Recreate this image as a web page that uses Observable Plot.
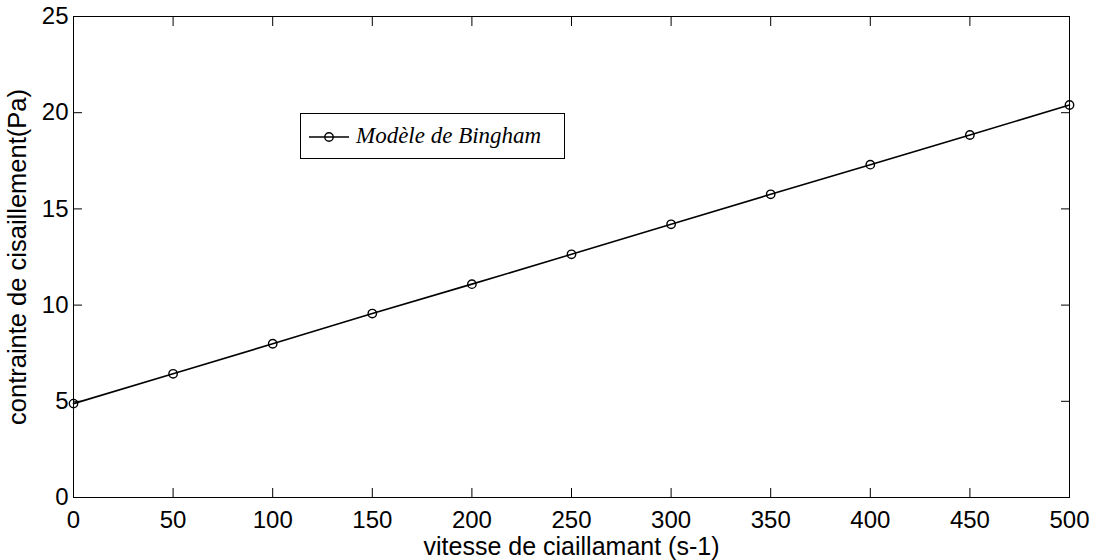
<!DOCTYPE html>
<html>
<head>
<meta charset="utf-8">
<script src="https://cdn.jsdelivr.net/npm/d3@7"></script>
<script src="https://cdn.jsdelivr.net/npm/@observablehq/plot@0.6"></script>
<style>
  html, body { margin: 0; padding: 0; background: #fff; }
  #wrap { position: relative; width: 1096px; height: 560px; }
  #legend {
    position: absolute; left: 300px; top: 113px; width: 263px; height: 44px;
    border: 1px solid #000; background: #fff; box-sizing: content-box;
    font-family: "Liberation Serif", "Times New Roman", serif; font-style: italic; font-size: 23px;
  }
  #legend svg { position: absolute; left: 7px; top: 0; }
  #legend span { position: absolute; left: 55px; top: 9px; line-height: 26px; white-space: nowrap; }
</style>
</head>
<body>
<div id="wrap"></div>
<script>
const shearRate = [0, 50, 100, 150, 200, 250, 300, 350, 400, 450, 500];
const shearStress = [4.88, 6.43, 7.99, 9.56, 11.09, 12.64, 14.20, 15.76, 17.30, 18.84, 20.40];
const xTicks = [0, 50, 100, 150, 200, 250, 300, 350, 400, 450, 500];
const yTicks = [0, 5, 10, 15, 20, 25];
const xLabel = "vitesse de ciaillamant (s-1)";
const yLabel = "contrainte de cisaillement(Pa)";
const seriesName = "Modèle de Bingham";

const data = shearRate.map((x, i) => ({x, y: shearStress[i]}));

const chart = Plot.plot({
  width: 1096,
  height: 560,
  marginLeft: 73,
  marginRight: 27,
  marginTop: 16,
  marginBottom: 63,
  style: {fontFamily: "'Liberation Sans', Arial, sans-serif", fontSize: "24px", color: "#000", background: "#fff"},
  x: {domain: [0, 500]},
  y: {domain: [0, 25]},
  marks: [
    Plot.frame({stroke: "#000", strokeWidth: 1}),
    // inward ticks
    Plot.axisX(xTicks, {anchor: "bottom", tickSize: -9, tickFormat: () => "", label: null}),
    Plot.axisX(xTicks, {anchor: "top", tickSize: -9, tickFormat: () => "", label: null}),
    Plot.axisY(yTicks, {anchor: "left", tickSize: -9, tickFormat: () => "", label: null}),
    Plot.axisY(yTicks, {anchor: "right", tickSize: -9, tickFormat: () => "", label: null}),
    // tick labels
    Plot.axisX(xTicks, {anchor: "bottom", tickSize: 0, tickPadding: 13, label: null, fontSize: 24}),
    Plot.axisY(yTicks, {anchor: "left", tickSize: 0, tickPadding: 5, label: null, fontSize: 24}),
    // axis titles
    Plot.text([xLabel], {frameAnchor: "bottom", textAnchor: "middle", lineAnchor: "middle", dy: 49, fontSize: 25, text: d => d}),
    Plot.text([yLabel], {frameAnchor: "left", textAnchor: "middle", lineAnchor: "middle", rotate: -90, dx: -56, fontSize: 25.5, text: d => d}),
    // series
    Plot.line(data, {x: "x", y: "y", stroke: "#000", strokeWidth: 1.6}),
    Plot.dot(data, {x: "x", y: "y", r: 4.2, stroke: "#000", strokeWidth: 1.4, fill: "none"})
  ]
});

const wrap = document.getElementById("wrap");
wrap.appendChild(chart);

const legend = document.createElement("div");
legend.id = "legend";
legend.innerHTML = `<svg width="46" height="44"><line x1="1" y1="23" x2="41" y2="23" stroke="#000" stroke-width="1.6"/><circle cx="21" cy="23" r="4.2" fill="none" stroke="#000" stroke-width="1.4"/></svg><span></span>`;
legend.querySelector("span").textContent = seriesName;
wrap.appendChild(legend);
</script>
</body>
</html>
